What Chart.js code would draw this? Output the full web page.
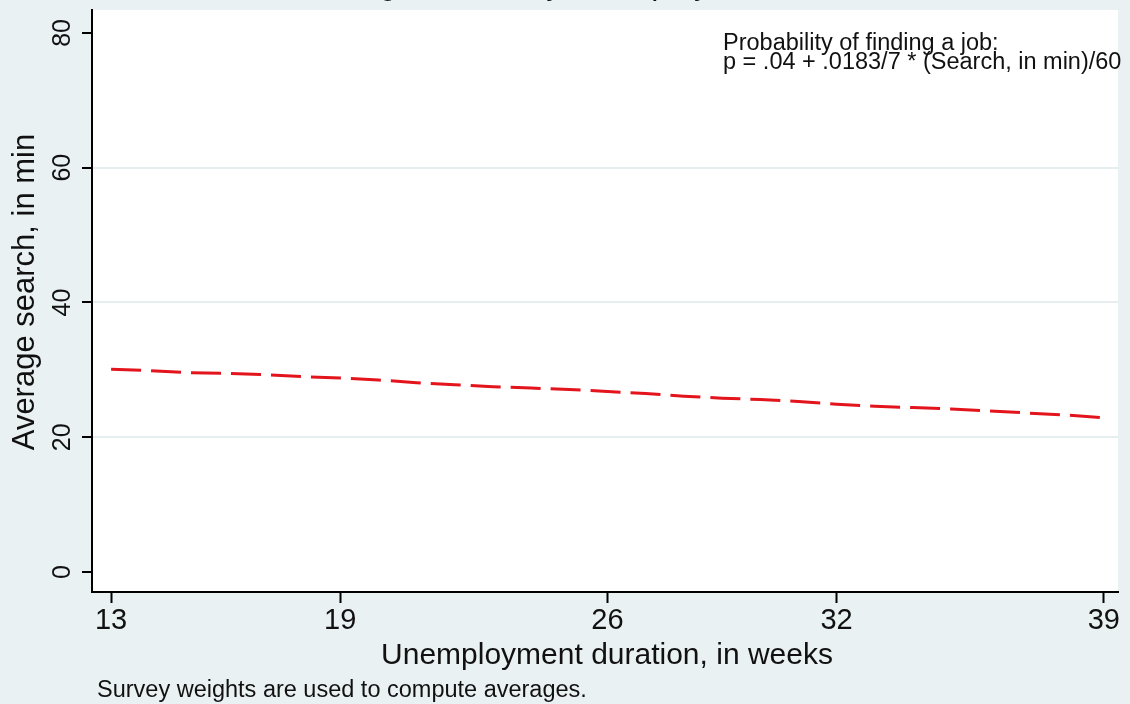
<!DOCTYPE html>
<html>
<head>
<meta charset="utf-8">
<script src="https://cdn.jsdelivr.net/npm/chart.js@4"></script>
<style>
  html, body { margin: 0; padding: 0; background: #eaf1f3; }
  #wrap { width: 1130px; height: 704px; }
</style>
</head>
<body>
<div id="wrap"><canvas id="searchChart" width="1130" height="704"></canvas></div>
<script>
// Unemployment duration (weeks) and average search time (minutes)
const weeks = [13, 14, 15, 16, 17, 18, 19, 20, 21, 22, 23, 24, 25, 26,
               27, 28, 29, 30, 31, 32, 33, 34, 35, 36, 37, 38, 39];
const avgSearch = [30.1, 29.9, 29.6, 29.5, 29.3, 29.0, 28.8, 28.5, 28.1, 27.8, 27.5, 27.3, 27.1, 26.8,
                   26.5, 26.1, 25.8, 25.6, 25.3, 24.9, 24.6, 24.4, 24.2, 23.9, 23.6, 23.3, 22.9];

const xTicks = [13, 19, 26, 32, 39];
const yTicks = [0, 20, 40, 60, 80];
const gridValues = [20, 40, 60];

const chartTitle = 'Average search by unemployment duration';
const xTitle = 'Unemployment duration, in weeks';
const yTitle = 'Average search, in min';
const noteLines = ['Probability of finding a job:', 'p = .04 + .0183/7 * (Search, in min)/60'];
const footnote = 'Survey weights are used to compute averages.';

const FONT = 'Arial, "Liberation Sans", sans-serif';

// Background, white plot region and all the free text
const decorPlugin = {
    id: 'decor',
    beforeDraw(chart) {
        const ctx = chart.ctx;
        const a = chart.chartArea;
        ctx.save();
        ctx.fillStyle = '#eaf1f3';
        ctx.fillRect(0, 0, chart.width, chart.height);
        ctx.fillStyle = '#ffffff';
        ctx.fillRect(a.left, a.top, a.right - a.left, a.bottom - a.top);
        ctx.restore();
    },
    afterDraw(chart) {
        const ctx = chart.ctx;
        const yScale = chart.scales.y;
        ctx.save();
        ctx.fillStyle = '#111111';

        // title, mostly cut off at the top edge
        ctx.font = '32px ' + FONT;
        ctx.textAlign = 'left';
        ctx.textBaseline = 'alphabetic';
        ctx.fillText(chartTitle, 296, -6);

        // y tick labels, rotated
        ctx.font = '25px ' + FONT;
        yTicks.forEach(v => {
            const py = yScale.getPixelForValue(v);
            ctx.save();
            ctx.translate(70, py);
            ctx.rotate(-Math.PI / 2);
            ctx.textAlign = 'center';
            ctx.textBaseline = 'alphabetic';
            ctx.fillText(String(v), 0, 0);
            ctx.restore();
        });

        // y axis title
        ctx.save();
        ctx.font = '31px ' + FONT;
        ctx.translate(34, 292);
        ctx.rotate(-Math.PI / 2);
        ctx.textAlign = 'center';
        ctx.textBaseline = 'alphabetic';
        ctx.fillText(yTitle, 0, 0);
        ctx.restore();

        // x axis title
        ctx.font = '30px ' + FONT;
        ctx.textAlign = 'center';
        ctx.fillText(xTitle, 607, 664);

        // annotation
        ctx.font = '23.5px ' + FONT;
        ctx.textAlign = 'left';
        ctx.fillText(noteLines[0], 723, 50);
        ctx.fillText(noteLines[1], 723, 69);

        // footnote
        ctx.font = '23.5px ' + FONT;
        ctx.fillText(footnote, 97, 697);
        ctx.restore();
    }
};

function createSearchChart() {
    const ctx = document.getElementById('searchChart').getContext('2d');

    new Chart(ctx, {
        type: 'line',
        data: {
            datasets: [{
                data: weeks.map((w, i) => ({ x: w, y: avgSearch[i] })),
                borderColor: '#e3141c',
                borderWidth: 3,
                borderDash: [30, 10],
                pointRadius: 0,
                tension: 0,
                fill: false
            }]
        },
        options: {
            responsive: false,
            animation: false,
            layout: { padding: { top: 10, right: 12, left: 0, bottom: 0 } },
            plugins: {
                legend: { display: false },
                tooltip: { enabled: false }
            },
            scales: {
                x: {
                    type: 'linear',
                    min: 12.5,
                    max: 39.37,
                    afterBuildTicks: scale => { scale.ticks = xTicks.map(v => ({ value: v })); },
                    afterFit: scale => { scale.height = 112; },
                    border: { display: true, color: '#000000', width: 2 },
                    grid: {
                        drawOnChartArea: false,
                        drawTicks: true,
                        tickLength: 11,
                        tickColor: '#000000',
                        tickWidth: 2
                    },
                    ticks: {
                        color: '#111111',
                        padding: 1,
                        maxRotation: 0,
                        font: { family: FONT, size: 29 }
                    }
                },
                y: {
                    min: -2.96,
                    max: 83.4,
                    afterBuildTicks: scale => { scale.ticks = yTicks.map(v => ({ value: v })); },
                    afterFit: scale => { scale.width = 92; },
                    border: { display: true, color: '#000000', width: 2 },
                    grid: {
                        drawTicks: true,
                        tickLength: 10,
                        tickColor: '#000000',
                        tickWidth: 2,
                        lineWidth: 2,
                        color: c => gridValues.includes(c.tick && c.tick.value) ? '#e6eef0' : 'rgba(0,0,0,0)'
                    },
                    ticks: { display: false }
                }
            }
        },
        plugins: [decorPlugin]
    });
}

document.addEventListener('DOMContentLoaded', createSearchChart);
</script>
</body>
</html>
